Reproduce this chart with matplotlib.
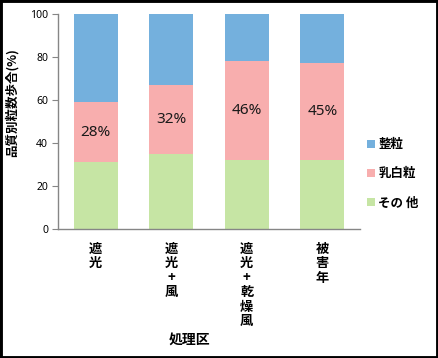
import matplotlib
matplotlib.use("Agg")
import matplotlib.pyplot as plt
from matplotlib.patches import Rectangle
import numpy as np

plt.rcParams['font.family'] = ['Noto Sans CJK JP', 'DejaVu Sans']

categories = ["遮\n光", "遮\n光\n+\n風", "遮\n光\n+\n乾\n燥\n風", "被\n害\n年"]
other = [31, 35, 32, 32]        # その 他
chalky = [28, 32, 46, 45]       # 乳白粒
whole = [41, 33, 22, 23]        # 整粒
pct_labels = ["28%", "32%", "46%", "45%"]
yticks = [0, 20, 40, 60, 80, 100]

c_blue = "#74B0DD"
c_pink = "#F8AEAE"
c_green = "#C6E5A4"

fig = plt.figure(figsize=(4.38, 3.58), dpi=100)
ax = fig.add_axes([58/438, 1-229/358, (360-58)/438, (229-14)/358])

x = np.arange(len(categories))
w = 0.58
b1 = ax.bar(x, other, w, color=c_green, label="その 他")
b2 = ax.bar(x, chalky, w, bottom=other, color=c_pink, label="乳白粒")
b3 = ax.bar(x, whole, w, bottom=np.array(other)+np.array(chalky), color=c_blue, label="整粒")

ax.bar_label(b2, labels=pct_labels, label_type='center', fontsize=11,
             family=['Noto Sans', 'DejaVu Sans'], color='#1a1a1a')

ax.set_xlim(-0.5, 3.5)
ax.set_ylim(0, 100)
ax.set_yticks(yticks)
ax.set_yticklabels([str(v) for v in yticks], fontsize=7.5, family=['Noto Sans', 'DejaVu Sans'])
ax.set_xticks(x)
ax.set_xticklabels(categories, fontsize=9.5, fontweight='bold', linespacing=1.05, va='top')
ax.tick_params(axis='x', length=0, pad=9)
ax.tick_params(axis='y', length=4, width=0.8, color='#868686', pad=3)

for s in ['top', 'right']:
    ax.spines[s].set_visible(False)
for s in ['left', 'bottom']:
    ax.spines[s].set_color('#868686')
    ax.spines[s].set_linewidth(1.0)

ax.set_ylabel("品質別粒数歩合(%)", fontsize=9, fontweight='bold')
ax.yaxis.set_label_coords((19-58)/302, (229-103)/215)
ax.set_xlabel("処理区", fontsize=10, fontweight='bold')
ax.xaxis.set_label_coords((190-58)/302, -(333-229)/215)

handles = [b3, b2, b1]
leg = fig.legend(handles, [h.get_label() for h in handles],
                 loc='upper left', bbox_to_anchor=(362/438, 1-133/358),
                 frameon=False, prop={'weight': 'bold', 'size': 9},
                 handlelength=0.6, handleheight=0.6, handletextpad=0.3,
                 labelspacing=1.3, borderaxespad=0)

fig.patches.append(Rectangle((0, 0), 1, 1, transform=fig.transFigure,
                             fill=False, edgecolor='black', linewidth=3.5))

fig.savefig("out.png", dpi=100)
